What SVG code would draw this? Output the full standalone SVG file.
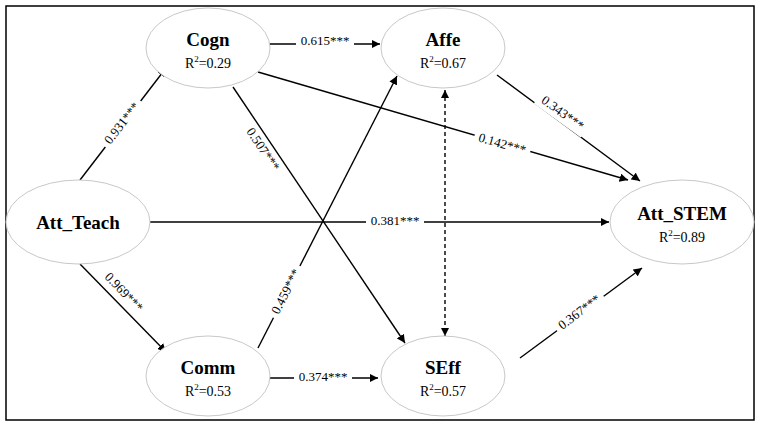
<svg xmlns="http://www.w3.org/2000/svg" width="760" height="427" viewBox="0 0 760 427">
<style>
.n{fill:#fff;stroke:#c8c8c8;stroke-width:1}
.t{font-family:"Liberation Serif",serif;font-weight:bold;font-size:19px;text-anchor:middle}
.r{font-family:"Liberation Serif",serif;font-size:14px;text-anchor:middle}
.e{stroke:#000;stroke-width:1.4;fill:none;marker-end:url(#a)}
.l{font-family:"Liberation Serif",serif;font-size:13px;text-anchor:middle;dominant-baseline:middle}
.b{fill:#fff}
</style>
<defs><marker id="a" viewBox="0 0 10 10" refX="10" refY="5" markerWidth="6" markerHeight="6" orient="auto-start-reverse"><path d="M0,0L10,5L0,10z"/></marker></defs>
<rect x="0" y="0" width="760" height="427" fill="#fff"/>
<rect x="6" y="6" width="748" height="414" fill="none" stroke="#000" stroke-width="1.5"/>
<g id="connectors">
<line class="e" x1="80" y1="180" x2="166" y2="68"/>
<line class="e" x1="80" y1="264" x2="166" y2="352"/>
<line class="e" x1="268" y1="44" x2="380" y2="44"/>
<line class="e" x1="258" y1="72" x2="628" y2="180"/>
<line class="e" x1="233" y1="87" x2="405" y2="343"/>
<line class="e" x1="258" y1="348" x2="397" y2="76"/>
<line class="e" x1="270" y1="378" x2="378" y2="378"/>
<line class="e" x1="445" y1="90" x2="445" y2="336" stroke-dasharray="4,3" style="marker-start:url(#a)"/>
<line class="e" x1="497" y1="75" x2="640" y2="181"/>
<line class="e" x1="150" y1="222" x2="609" y2="222"/>
<line class="e" x1="520" y1="358" x2="642" y2="268"/>
<g transform="translate(123,124) rotate(-52)"><rect class="b" x="-29" y="-8" width="58" height="16"/><text class="l">0.931***</text></g>
<g transform="translate(123,293) rotate(46)"><rect class="b" x="-29" y="-8" width="58" height="16"/><text class="l">0.969***</text></g>
<g transform="translate(325,44)"><rect class="b" x="-29" y="-8" width="58" height="16"/><text class="l" y="-2">0.615***</text></g>
<g transform="translate(502,145) rotate(16)"><rect class="b" x="-29" y="-8" width="58" height="16"/><text class="l">0.142***</text></g>
<g transform="translate(262,150) rotate(56)"><rect class="b" x="-29" y="-8" width="58" height="16"/><text class="l">0.507***</text></g>
<g transform="translate(287,292) rotate(-63)"><rect class="b" x="-29" y="-8" width="58" height="16"/><text class="l">0.459***</text></g>
<g transform="translate(323,378)"><rect class="b" x="-29" y="-8" width="58" height="16"/><text class="l">0.374***</text></g>
<g transform="translate(562,114) rotate(36)"><rect class="b" x="-29" y="-8" width="58" height="16"/><text class="l">0.343***</text></g>
<g transform="translate(395,222)"><rect class="b" x="-29" y="-8" width="58" height="16"/><text class="l">0.381***</text></g>
<g transform="translate(580,313) rotate(-37)"><rect class="b" x="-29" y="-8" width="58" height="16"/><text class="l">0.367***</text></g>
</g>
<g id="Cogn"><ellipse class="n" cx="208" cy="48" rx="62" ry="40"/><text class="t" x="208" y="46">Cogn</text><text class="r" x="208" y="68">R<tspan font-size="9" dy="-6">2</tspan><tspan dy="6">=0.29</tspan></text></g>
<g id="Affe"><ellipse class="n" cx="443" cy="48" rx="62" ry="40"/><text class="t" x="443" y="46">Affe</text><text class="r" x="443" y="68">R<tspan font-size="9" dy="-6">2</tspan><tspan dy="6">=0.67</tspan></text></g>
<g id="Att_Teach"><ellipse class="n" cx="78" cy="222" rx="72" ry="42"/><text class="t" x="78" y="229">Att_Teach</text></g>
<g id="Att_STEM"><ellipse class="n" cx="682" cy="222" rx="72" ry="42"/><text class="t" x="682" y="220">Att_STEM</text><text class="r" x="682" y="242">R<tspan font-size="9" dy="-6">2</tspan><tspan dy="6">=0.89</tspan></text></g>
<g id="Comm"><ellipse class="n" cx="208" cy="376" rx="62" ry="40"/><text class="t" x="208" y="374">Comm</text><text class="r" x="208" y="396">R<tspan font-size="9" dy="-6">2</tspan><tspan dy="6">=0.53</tspan></text></g>
<g id="SEff"><ellipse class="n" cx="443" cy="376" rx="62" ry="40"/><text class="t" x="443" y="374">SEff</text><text class="r" x="443" y="396">R<tspan font-size="9" dy="-6">2</tspan><tspan dy="6">=0.57</tspan></text></g>
</svg>
